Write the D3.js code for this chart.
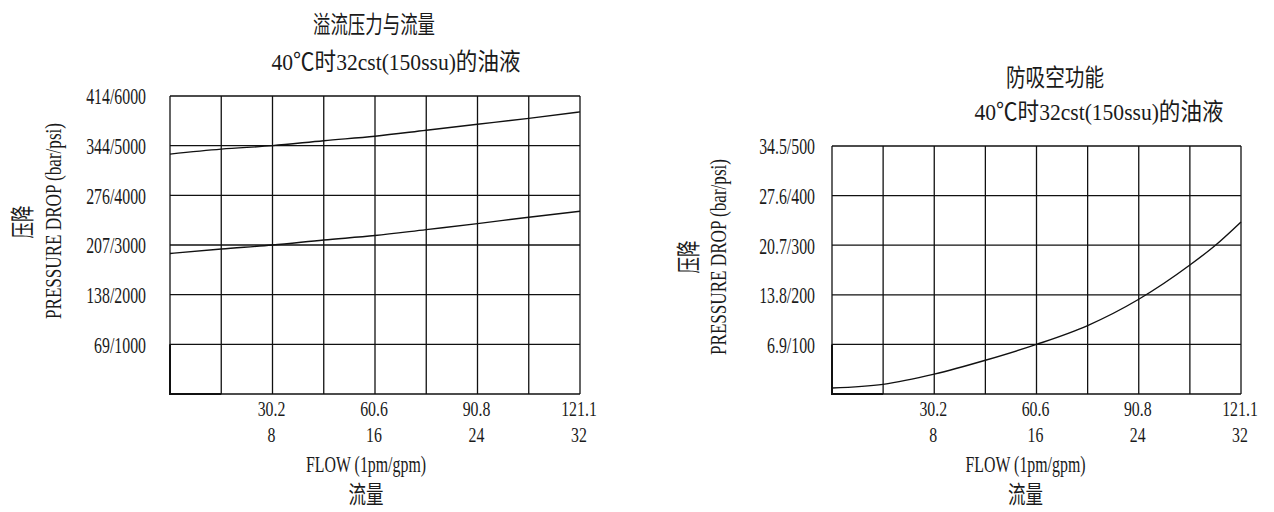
<!DOCTYPE html>
<html>
<head>
<meta charset="utf-8">
<script src="https://cdn.jsdelivr.net/npm/d3@7"></script>
<style>
  body { margin: 0; background: #fff; }
  text { font-family: 'Liberation Serif', 'Noto Sans CJK SC', serif; fill: #1a1a1a; }
</style>
</head>
<body>
<div id="chart"></div>
<script>
// flow axis (gpm) and its lpm twin
const gpmTicks = [8, 16, 24, 32]
const lpmTicks = ['30.2', '60.6', '90.8', '121.1']

// relief valve chart
const reliefPsiTicks = [1000, 2000, 3000, 4000, 5000, 6000]
const reliefBarTicks = ['69', '138', '207', '276', '344', '414']
const reliefFlow = [0, 4, 8, 12, 16, 20, 24, 28, 32]
const reliefHigh = [4830, 4930, 5000, 5100, 5190, 5310, 5430, 5550, 5680]
const reliefLow = [2830, 2920, 3000, 3100, 3190, 3310, 3430, 3560, 3680]

// anti-cavitation chart
const cavPsiTicks = [100, 200, 300, 400, 500]
const cavBarTicks = ['6.9', '13.8', '20.7', '27.6', '34.5']
const cavFlow = [0, 4, 8, 12, 16, 20, 24, 28, 30, 32]
const cavPsi = [12, 19.5, 40, 68, 100, 138, 191, 260, 300, 347]

const width = 1274
const height = 512
const sx = 0.66 // condensed look for the numbers

const svg = d3
  .select('#chart')
  .append('svg')
  .attr('width', width)
  .attr('height', height)

function fitText(g, str, x, y, len, size, rotate) {
  const t = g
    .append('text')
    .attr('transform', 'translate(' + x + ',' + y + ')' + (rotate ? ' rotate(-90)' : ''))
    .attr('text-anchor', 'middle')
    .attr('font-size', size)
    .attr('textLength', len)
    .attr('lengthAdjust', 'spacingAndGlyphs')
    .text(str)
  return t
}

function drawChart(cfg) {
  const g = svg.append('g')

  const x = d3.scaleLinear().domain([0, 32]).range([cfg.left, cfg.right])
  const y = d3.scaleLinear().domain([0, cfg.yMax]).range([cfg.bottom, cfg.top])

  // grid
  g.selectAll('.vgrid')
    .data(d3.range(0, 33, 4))
    .enter()
    .append('line')
    .attr('x1', d => x(d))
    .attr('x2', d => x(d))
    .attr('y1', y(0))
    .attr('y2', y(cfg.yMax))
    .attr('stroke', '#111')
    .attr('stroke-width', 1.3)

  g.selectAll('.hgrid')
    .data([0].concat(cfg.psiTicks))
    .enter()
    .append('line')
    .attr('x1', x(0))
    .attr('x2', x(32))
    .attr('y1', d => y(d))
    .attr('y2', d => y(d))
    .attr('stroke', '#111')
    .attr('stroke-width', 1.3)

  // heavier stroke on the first cell, like the original drawing
  g.append('path')
    .attr('d', 'M' + x(0) + ',' + y(cfg.psiTicks[0]) + 'L' + x(0) + ',' + y(0) + 'L' + x(4) + ',' + y(0))
    .attr('fill', 'none')
    .attr('stroke', '#111')
    .attr('stroke-width', 2)

  // y tick labels
  g.selectAll('.ylab')
    .data(cfg.psiTicks)
    .enter()
    .append('text')
    .attr('transform', d => 'translate(' + (cfg.left - cfg.labelGap) + ',' + y(d) + ') scale(' + sx + ',1)')
    .attr('text-anchor', 'end')
    .attr('dy', '0.35em')
    .attr('font-size', 24)
    .text((d, i) => cfg.barTicks[i] + '/' + d)

  // x tick labels, lpm over gpm
  g.selectAll('.xlab1')
    .data(gpmTicks)
    .enter()
    .append('text')
    .attr('transform', d => 'translate(' + (x(d) - 1) + ',' + (cfg.bottom + 22) + ') scale(0.72,1)')
    .attr('text-anchor', 'middle')
    .attr('font-size', 22)
    .text((d, i) => lpmTicks[i])

  g.selectAll('.xlab2')
    .data(gpmTicks)
    .enter()
    .append('text')
    .attr('transform', d => 'translate(' + (x(d) - 1) + ',' + (cfg.bottom + 48) + ') scale(0.72,1)')
    .attr('text-anchor', 'middle')
    .attr('font-size', 22)
    .text(d => d)

  // curves
  const line = d3
    .line()
    .x(d => x(d[0]))
    .y(d => y(d[1]))
    .curve(d3.curveMonotoneX)

  cfg.series.forEach(s => {
    g.append('path')
      .datum(s.flow.map((f, i) => [f, s.psi[i]]))
      .attr('d', line)
      .attr('fill', 'none')
      .attr('stroke', '#111')
      .attr('stroke-width', 1.4)
  })

  // titles
  fitText(g, cfg.title, cfg.titleX, cfg.titleY, cfg.titleLen, 24)
  fitText(g, '40℃时32cst(150ssu)的油液', cfg.subX, cfg.subY, 249, 24)

  // axis titles
  const midX = (cfg.left + cfg.right) / 2
  fitText(g, 'FLOW (1pm/gpm)', midX - cfg.flowShift, 472, 120, 23)
  fitText(g, '流量', midX - cfg.flowShift, 503, 35, 24)
  fitText(g, 'PRESSURE DROP (bar/psi)', cfg.yTitleX, cfg.yTitleMid, 196, 23, true)
  fitText(g, '压降', cfg.cnYX, cfg.cnYMid, 33, 24, true)
}

drawChart({
  left: 170,
  right: 580,
  top: 96,
  bottom: 394,
  yMax: 6000,
  psiTicks: reliefPsiTicks,
  barTicks: reliefBarTicks,
  labelGap: 24,
  series: [
    { flow: reliefFlow, psi: reliefHigh },
    { flow: reliefFlow, psi: reliefLow }
  ],
  title: '溢流压力与流量',
  titleX: 374,
  titleY: 33,
  titleLen: 122,
  subX: 396,
  subY: 70,
  flowShift: 9,
  yTitleX: 61,
  yTitleMid: 221,
  cnYX: 31,
  cnYMid: 222
})

drawChart({
  left: 832,
  right: 1241,
  top: 146,
  bottom: 394,
  yMax: 500,
  psiTicks: cavPsiTicks,
  barTicks: cavBarTicks,
  labelGap: 17,
  series: [{ flow: cavFlow, psi: cavPsi }],
  title: '防吸空功能',
  titleX: 1055,
  titleY: 86,
  titleLen: 98,
  subX: 1099,
  subY: 120,
  flowShift: 11,
  yTitleX: 726,
  yTitleMid: 257,
  cnYX: 697,
  cnYMid: 257
})
</script>
</body>
</html>
